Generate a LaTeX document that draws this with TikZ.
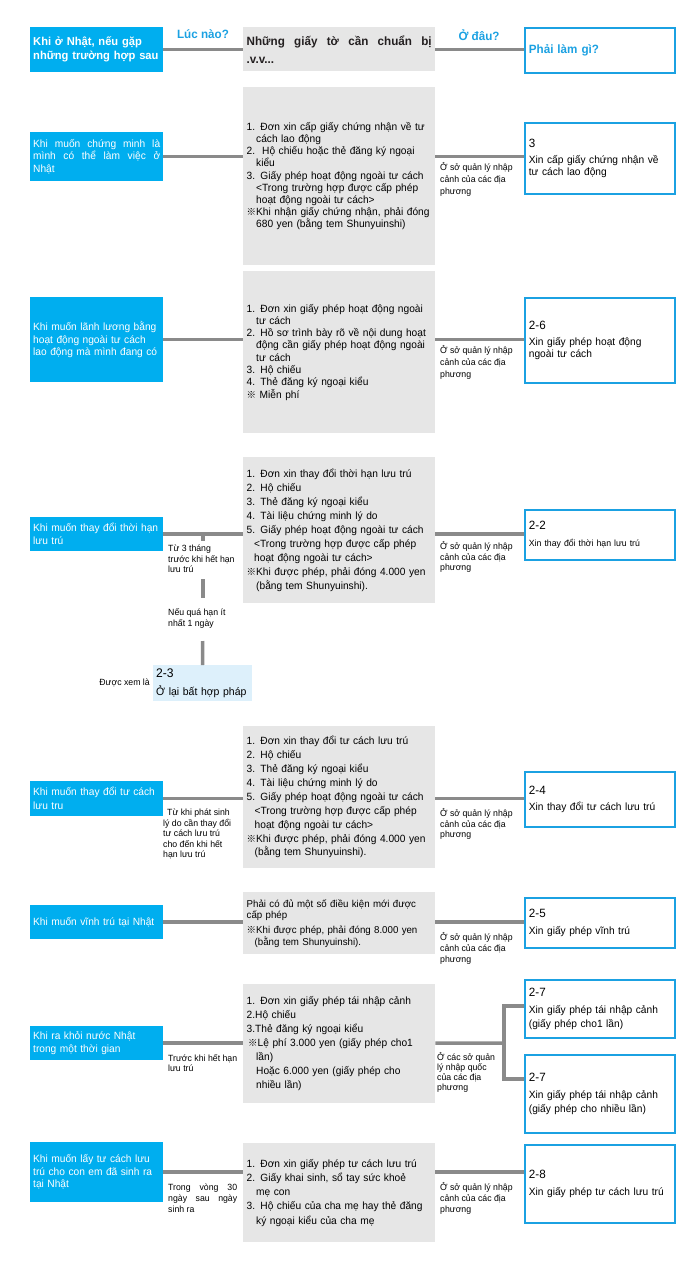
\documentclass[tikz,border=0pt]{standalone}
\usepackage{fontspec}
\setmainfont{Liberation Sans}[FakeStretch=0.97]
\newfontfamily\cjkfont{Noto Sans CJK JP}
\definecolor{cyanfill}{HTML}{00AEEF}
\definecolor{bborder}{HTML}{1BA1E2}
\definecolor{hblue}{HTML}{1BA1E2}
\definecolor{grayfill}{HTML}{E6E6E6}
\definecolor{lightbluefill}{HTML}{DDF0FB}
\definecolor{linegray}{HTML}{8A8A8A}
\definecolor{hdrtext}{HTML}{231F20}
\newcommand{\refm}{{\cjkfont\bfseries\fontsize{9.5pt}{10pt}\selectfont ※}}
\newcommand{\ind}{\hspace*{9.5pt}}
\newcommand{\fs}[2]{\fontsize{#1pt}{#2pt}\selectfont}
\newcommand{\jl}[2]{\makebox[#1][s]{\spaceskip=0.25em plus 3em\relax #2}}
\begin{document}
\begin{tikzpicture}[x=1pt,y=-1pt,
  bluebox/.style={fill=cyanfill,text=white,anchor=north west,inner xsep=3pt,inner ysep=0pt,
    text width=127pt,minimum width=133pt,font=\fs{10.5}{12.5}},
  graybox/.style={fill=grayfill,text=black,anchor=north west,inner xsep=3.5pt,inner ysep=0pt,
    text width=185pt,minimum width=192pt,font=\fs{10.5}{14}},
  whitebox/.style={draw=bborder,line width=1.8pt,fill=white,anchor=north west,inner xsep=4pt,inner ysep=0pt,
    text width=142pt,minimum width=150pt,font=\fs{10.5}{12}},
  conn/.style={draw=linegray,line width=3.5pt},
  lbl/.style={anchor=west,inner sep=0pt,align=left,font=\fs{9}{11}}
]
\useasboundingbox (0,0) rectangle (700,1269);

% ---------- header ----------
\node[bluebox,minimum height=45pt,font=\bfseries\fs{11.5}{14}] (b0) at (30,27) {Khi ở Nhật, nếu gặp\\những trường hợp sau};
\node[graybox,minimum height=44pt,font=\bfseries\fs{12}{18},text=hdrtext] (g0) at (243,27) {\jl{185pt}{Những giấy tờ cần chuẩn bị}\\.v.v...};
\node[whitebox,minimum height=45pt,font=\bfseries\fs{12}{14},text=hblue] (w0) at (524,27) {Phải làm gì?};
\node[font=\bfseries\fs{12}{14},text=hblue,inner sep=0pt] (q1) at (203,34) {Lúc nào?};
\node[font=\bfseries\fs{12}{14},text=hblue,inner sep=0pt] (q2) at (479,35) {Ở đâu?};
\draw[conn] (b0.east) -- (b0.east -| g0.west);
\draw[conn] (b0.east -| g0.east) -- (b0.east -| w0.west);

% ---------- row 1 ----------
\node[bluebox,minimum height=49pt] (b1) at (30,132) {\jl{127pt}{Khi muốn chứng minh là}\\\jl{127pt}{mình có thể làm việc ở}\\Nhật};
\node[graybox,minimum height=178pt,font=\fs{10.5}{12.2}] (g1) at (243,87) {1. Đơn xin cấp giấy chứng nhận về tư\\
\ind cách lao động\\
2.\ \ Hộ chiếu hoặc thẻ đăng ký ngoại\\
\ind kiểu\\
3. Giấy phép hoạt động ngoài tư cách\\
\ind <Trong trường hợp được cấp phép\\
\ind hoạt động ngoài tư cách>\\
\refm Khi nhận giấy chứng nhận, phải đóng\\
\ind 680 yen (bằng tem Shunyuinshi)};
\node[whitebox,minimum height=71pt] (w1) at (524,122) {{\fs{12}{14}3}\\[4.5pt]Xin cấp giấy chứng nhận về\\tư cách lao động};
\node[lbl,font=\fs{9}{12}] (l1) at (440,179) {Ở sở quản lý nhập\\cảnh của các địa\\phương};
\draw[conn] (b1.east) -- (b1.east -| g1.west);
\draw[conn] (b1.east -| g1.east) -- (b1.east -| w1.west);

% ---------- row 2 ----------
\node[bluebox,minimum height=85pt] (b2) at (30,297) {Khi muốn lãnh lương bằng\\hoạt động ngoài tư cách\\lao động mà mình đang có};
\node[graybox,minimum height=162pt,font=\fs{10.5}{12.3}] (g2) at (243,271) {1. Đơn xin giấy phép hoạt động ngoài\\
\ind tư cách\\
2. Hồ sơ trình bày rõ về nội dung hoạt\\
\ind động cần giấy phép hoạt động ngoài\\
\ind tư cách\\
3. Hộ chiếu\\
4. Thẻ đăng ký ngoại kiểu\\
\refm\ Miễn phí};
\node[whitebox,minimum height=85pt] (w2) at (524,297) {{\fs{12}{14}2-6}\\[4.5pt]Xin giấy phép hoạt động\\ngoài tư cách};
\node[lbl,font=\fs{9}{12}] (l2) at (440,362) {Ở sở quản lý nhập\\cảnh của các địa\\phương};
\draw[conn] (b2.east) -- (b2.east -| g2.west);
\draw[conn] (b2.east -| g2.east) -- (b2.east -| w2.west);

% ---------- row 3 ----------
\node[bluebox,minimum height=34pt,font=\fs{10.5}{13}] (b3) at (30,517) {Khi muốn thay đổi thời hạn\\lưu trú};
\node[graybox,minimum height=146pt,font=\fs{10.5}{14}] (g3) at (243,457) {1. Đơn xin thay đổi thời hạn lưu trú\\
2. Hộ chiếu\\
3. Thẻ đăng ký ngoại kiểu\\
4. Tài liệu chứng minh lý do\\
5. Giấy phép hoạt động ngoài tư cách\\
\hspace*{7.5pt}<Trong trường hợp được cấp phép\\
\hspace*{7.5pt}hoạt động ngoài tư cách>\\
\refm Khi được phép, phải đóng 4.000 yen\\
\ind (bằng tem Shunyuinshi).};
\node[whitebox,minimum height=50pt,font=\fs{9}{11}] (w3) at (524,509) {{\fs{12}{14}2-2}\\[5.5pt]Xin thay đổi thời hạn lưu trú};
\node[lbl,font=\fs{9}{10.5}] (l3) at (440,557) {Ở sở quản lý nhập\\cảnh của các địa\\phương};
\draw[conn] (b3.east) -- (b3.east -| g3.west);
\draw[conn] (b3.east -| g3.east) -- (b3.east -| w3.west);
% branch down to 2-3
\coordinate (v3a) at (203,533);
\coordinate (v3b) at (203,541);
\coordinate (v3c) at (203,579);
\coordinate (v3d) at (203,598);
\coordinate (v3e) at (202.5,641);
\node[lbl,font=\fs{9}{10.5}] (s3) at (168,559) {Từ 3 tháng\\trước khi hết hạn\\lưu trú};
\node[lbl,font=\fs{9}{11}] (s3b) at (168,618) {Nếu quá hạn ít\\nhất 1 ngày};
\node[fill=lightbluefill,anchor=north west,minimum width=99pt,minimum height=36pt,inner xsep=3pt,inner ysep=0pt,
  text width=93pt,font=\fs{10.8}{14}] (lb) at (153,665) {{\fs{12.5}{14}2-3}\\[3.4pt]Ở lại bất hợp pháp};
\node[anchor=east,inner sep=0pt,font=\fs{9}{11}] (s3c) at (150,683) {Được xem là};
\draw[conn] (v3a) -- (v3b);
\draw[conn] (v3c) -- (v3d);
\draw[conn] (v3e) -- (lb.north);

% ---------- row 4 ----------
\node[bluebox,minimum height=35pt,font=\fs{10.5}{14}] (b4) at (30,781) {Khi muốn thay đổi tư cách\\lưu tru};
\node[graybox,minimum height=142pt,font=\fs{10.5}{13.9}] (g4) at (243,726) {1. Đơn xin thay đổi tư cách lưu trú\\
2. Hộ chiếu\\
3. Thẻ đăng ký ngoại kiểu\\
4. Tài liệu chứng minh lý do\\
5. Giấy phép hoạt động ngoài tư cách\\
\hspace*{8pt}<Trong trường hợp được cấp phép\\
\hspace*{8pt}hoạt động ngoài tư cách>\\
\refm Khi được phép, phải đóng 4.000 yen\\
\hspace*{8pt}(bằng tem Shunyuinshi).};
\node[whitebox,minimum height=55pt] (w4) at (524,771) {{\fs{12}{14}2-4}\\[4.5pt]Xin thay đổi tư cách lưu trú};
\node[lbl,font=\fs{9}{10.5}] (s4) at (163,834) {\hspace*{4pt}Từ khi phát sinh\\lý do cần thay đổi\\tư cách lưu trú\\cho đến khi hết\\hạn lưu trú};
\node[lbl,font=\fs{9}{10.5}] (l4) at (440,824) {Ở sở quản lý nhập\\cảnh của các địa\\phương};
\draw[conn] (b4.east) -- (b4.east -| g4.west);
\draw[conn] (b4.east -| g4.east) -- (b4.east -| w4.west);

% ---------- row 5 ----------
\node[bluebox,minimum height=34pt] (b5) at (30,905) {Khi muốn vĩnh trú tại Nhật};
\node[graybox,minimum height=62pt,font=\fs{10}{11.5}] (g5) at (243,892) {Phải có đủ một số điều kiện mới được\\
cấp phép\\[3.5pt]
\refm Khi được phép, phải đóng 8.000 yen\\
\hspace*{8pt}(bằng tem Shunyuinshi).};
\node[whitebox,minimum height=50pt] (w5) at (524,897) {{\fs{12}{14}2-5}\\[4.5pt]Xin giấy phép vĩnh trú};
\node[lbl,font=\fs{9}{11}] (l5) at (440,948) {Ở sở quản lý nhập\\cảnh của các địa\\phương};
\draw[conn] (b5.east) -- (b5.east -| g5.west);
\draw[conn] (b5.east -| g5.east) -- (b5.east -| w5.west);

% ---------- row 6 ----------
\node[bluebox,minimum height=34pt] (b6) at (30,1026) {Khi ra khỏi nước Nhật\\trong một thời gian};
\node[graybox,minimum height=119pt,font=\fs{10.5}{14}] (g6) at (243,984) {1. Đơn xin giấy phép tái nhập cảnh\\
2.Hộ chiếu\\
3.Thẻ đăng ký ngoại kiểu\\
\hspace*{1.5pt}\refm Lệ phí 3.000 yen (giấy phép cho1\\
\ind lần)\\
\ind Hoặc 6.000 yen (giấy phép cho\\
\ind nhiều lần)};
\node[whitebox,minimum height=58pt,font=\fs{10.5}{14.5}] (w6a) at (524,979) {{\fs{12}{14}2-7}\\[2.5pt]Xin giấy phép tái nhập cảnh\\(giấy phép cho1 lần)};
\node[whitebox,minimum height=78pt,font=\fs{10.5}{13.5}] (w6b) at (524,1054) {{\fs{12}{14}2-7}\\[3.5pt]Xin giấy phép tái nhập cảnh\\(giấy phép cho nhiều lần)};
\node[lbl,font=\fs{9}{10.5}] (s6) at (168,1063) {Trước khi hết hạn\\lưu trú};
\node[lbl,font=\fs{9}{10}] (l6) at (437,1072) {Ở các sở quản\\lý nhập quốc\\của các địa\\phương};
\coordinate (br) at (504,1043);
\coordinate (j1) at (504,1006);
\coordinate (j2) at (504,1079);
\draw[conn] (b6.east) -- (b6.east -| g6.west);
\draw[conn] (b6.east -| g6.east) -- (br);
\draw[conn] (w6a.west |- j1) -- (j1) -- (j2) -- (w6b.west |- j2);

% ---------- row 7 ----------
\node[bluebox,minimum height=60pt] (b7) at (30,1142) {Khi muốn lấy tư cách lưu\\trú cho con em đã sinh ra\\tại Nhật};
\node[graybox,minimum height=99pt,font=\fs{10.5}{14.2}] (g7) at (243,1143) {1. Đơn xin giấy phép tư cách lưu trú\\
2. Giấy khai sinh, sổ tay sức khoẻ\\
\ind mẹ con\\
3. Hộ chiếu của cha mẹ hay thẻ đăng\\
\ind ký ngoại kiểu của cha mẹ};
\node[whitebox,minimum height=78pt] (w7) at (524,1144) {{\fs{12}{14}2-8}\\[4.5pt]Xin giấy phép tư cách lưu trú};
\node[lbl,font=\fs{9}{11}] (s7) at (168,1198) {\jl{69pt}{Trong vòng 30}\\\jl{69pt}{ngày sau ngày}\\sinh ra};
\node[lbl,font=\fs{9}{11}] (l7) at (440,1198) {Ở sở quản lý nhập\\cảnh của các địa\\phương};
\draw[conn] (b7.east) -- (b7.east -| g7.west);
\draw[conn] (b7.east -| g7.east) -- (b7.east -| w7.west);
\end{tikzpicture}
\end{document}
